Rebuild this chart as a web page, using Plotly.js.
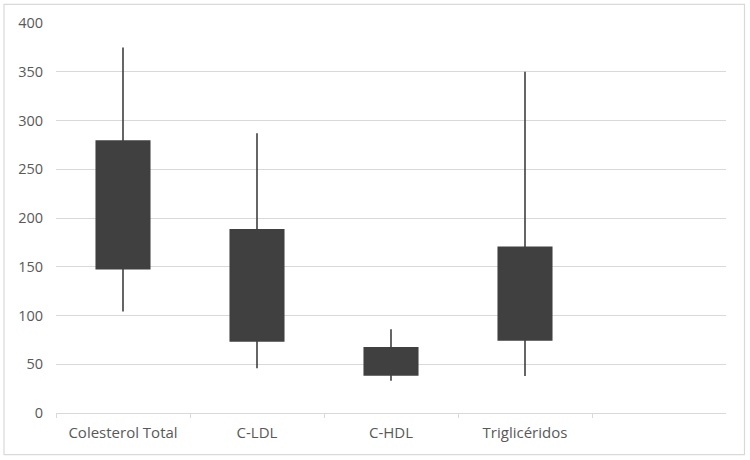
<!DOCTYPE html>
<html>
<head>
<meta charset="utf-8">
<script src="https://cdn.plot.ly/plotly-3.0.1.min.js"></script>
<style>
html,body{margin:0;padding:0;background:#fff;}
#chart{width:750px;height:460px;}
</style>
</head>
<body>
<div id="chart"></div>
<script>
const categories = ["Colesterol Total", "C-LDL", "C-HDL", "Triglicéridos"];
const highValues = [375, 287, 86, 350];
const boxTop = [279, 188, 67, 170];
const boxBottom = [148, 74, 39, 75];
const lowValues = [104, 46, 33, 38];
const yTicks = [0, 50, 100, 150, 200, 250, 300, 350, 400];

const trace = {
  type: "candlestick",
  x: categories,
  open: boxBottom,
  close: boxTop,
  high: highValues,
  low: lowValues,
  increasing: {line: {color: "#404040", width: 1.6}, fillcolor: "#404040"},
  decreasing: {line: {color: "#404040", width: 1.6}, fillcolor: "#404040"},
  whiskerwidth: 0,
  hoverinfo: "skip",
  showlegend: false
};

const layout = {
  width: 750,
  height: 460,
  margin: {l: 56, r: 24, t: 23, b: 47},
  paper_bgcolor: "#ffffff",
  plot_bgcolor: "#ffffff",
  font: {family: "Open Sans, Liberation Sans, sans-serif", size: 14, color: "#595959"},
  boxgap: 0.43,
  showlegend: false,
  xaxis: {
    type: "category",
    range: [-0.5, 4.5],
    rangeslider: {visible: false},
    tickson: "boundaries",
    ticks: "outside",
    ticklen: 4,
    tickcolor: "#d9d9d9",
    tickwidth: 1,
    showline: true,
    linecolor: "#d9d9d9",
    linewidth: 1,
    showgrid: false,
    zeroline: false,
    tickfont: {size: 15, color: "#595959"},
    ticklabelstandoff: 6,
    fixedrange: true
  },
  yaxis: {
    range: [0, 400],
    tickvals: yTicks,
    ticktext: yTicks.map(String),
    showgrid: true,
    gridcolor: "#d9d9d9",
    gridwidth: 1,
    zeroline: false,
    showline: false,
    ticks: "",
    tickfont: {size: 14.5, color: "#595959"},
    ticklabelstandoff: 12,
    fixedrange: true
  },
  shapes: [{
    type: "rect", xref: "paper", yref: "paper",
    x0: -0.0776, x1: 1.0276, y0: -0.1067, y1: 1.0476,
    line: {color: "#d9d9d9", width: 1.2}, fillcolor: "rgba(0,0,0,0)", layer: "below"
  }]
};

Plotly.newPlot("chart", [trace], layout, {displayModeBar: false, staticPlot: true});
</script>
</body>
</html>
